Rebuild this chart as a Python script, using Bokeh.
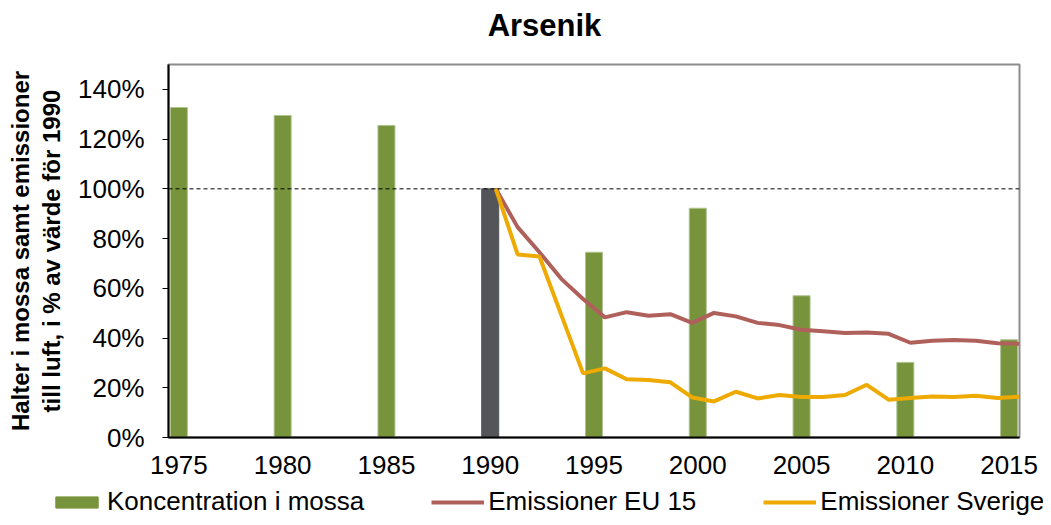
from bokeh.plotting import figure
from bokeh.layouts import column
from bokeh.models import (Range1d, FixedTicker, PrintfTickFormatter, Span, Title,
                          Legend, LegendItem, ColumnDataSource, Label)
from bokeh.embed import file_html
from bokeh.resources import INLINE

# ---- data ----
moss_years = [1975, 1980, 1985, 1990, 1995, 2000, 2005, 2010, 2015]
moss_values = [132.7, 129.5, 125.5, 100.0, 74.5, 92.2, 57.0, 30.2, 39.3]

emis_years = list(range(1990, 2015))
eu15_values = [100.0, 84.6, 74.5, 63.8, 55.7, 48.3, 50.4, 49.0, 49.6, 46.1,
               50.1, 48.7, 46.1, 45.2, 43.3, 42.7, 42.0, 42.2, 41.7, 38.1,
               38.9, 39.2, 38.9, 37.9, 37.7]
sverige_values = [100.0, 73.6, 72.8, 49.3, 25.8, 27.8, 23.4, 23.1, 22.2, 16.1,
                  14.5, 18.4, 15.7, 17.1, 16.3, 16.3, 17.1, 21.2, 15.2, 15.9,
                  16.5, 16.3, 16.8, 15.9, 16.4]

x_ticks = [1975, 1980, 1985, 1990, 1995, 2000, 2005, 2010, 2015]
y_ticks = [0, 20, 40, 60, 80, 100, 120, 140]

title_text = "Arsenik"
ylabel_1 = "Halter i mossa samt emissioner"
ylabel_2 = "till luft, i % av värde för 1990"
legend_labels = ["Koncentration i mossa", "Emissioner EU 15", "Emissioner Sverige"]

# ---- styles ----
GREEN = "#77933C"
GREEN_EDGE = "#AFC48F"
DARK = "#535559"
EU_COL = "#B0605A"
SE_COL = "#EEAA00"
FONT = "Liberation Sans"
W = 1043
TOP_H = 45
LEG_H = 31


def strip(height):
    f = figure(width=W, height=height, output_backend="svg", toolbar_location=None,
               x_range=Range1d(0, W), y_range=Range1d(0, height),
               x_axis_type=None, y_axis_type=None, min_border=0,
               frame_align=False)
    f.title = None
    f.xgrid.visible = False
    f.ygrid.visible = False
    f.outline_line_color = None
    f.background_fill_color = "white"
    f.border_fill_color = "white"
    return f


# ---- title strip ----
tp = strip(TOP_H)
tp.add_layout(Label(x=544, y=TOP_H - 24.5, text=title_text, text_font=FONT,
                    text_font_size="31px", text_font_style="bold",
                    text_align="center", text_baseline="alphabetic",
                    text_color="black"))

# ---- main chart ----
p = figure(width=W, height=517 - TOP_H - LEG_H, output_backend="svg",
           toolbar_location=None,
           x_range=Range1d(1974.5, 2015.5), y_range=Range1d(0, 150),
           min_border_left=168, min_border_right=24, min_border_top=64 - TOP_H,
           min_border_bottom=80 - LEG_H, frame_align=False)
p.extra_x_ranges = {"emis": Range1d(1975.0, 2014.0)}
p.title = None
p.xgrid.visible = False
p.ygrid.visible = False
p.outline_line_color = "#8C8C8C"
p.outline_line_width = 2
p.background_fill_color = "white"
p.border_fill_color = "white"

fills = [DARK if y == 1990 else GREEN for y in moss_years]
edges = [DARK if y == 1990 else GREEN_EDGE for y in moss_years]
src = ColumnDataSource(dict(x=moss_years, top=moss_values, fill=fills, edge=edges))
p.vbar(x="x", top="top", width=0.82, source=src, fill_color="fill",
       line_color="edge", line_width=1)

p.add_layout(Span(location=100, dimension="width", line_color="black",
                  line_width=1, line_dash="4 3"))

p.line(emis_years, eu15_values, x_range_name="emis", line_color=EU_COL,
       line_width=4)
p.line(emis_years, sverige_values, x_range_name="emis", line_color=SE_COL,
       line_width=4)

xa = p.xaxis[0]
xa.ticker = FixedTicker(ticks=x_ticks)
xa.axis_line_color = "black"
xa.axis_line_width = 2
xa.major_tick_out = 0
xa.major_tick_in = 0
xa.minor_tick_out = 0
xa.minor_tick_in = 0
xa.major_label_text_font = FONT
xa.major_label_text_font_size = "26px"
xa.major_label_text_color = "black"
xa.major_label_standoff = 18

ya = p.yaxis[0]
ya.ticker = FixedTicker(ticks=y_ticks)
ya.formatter = PrintfTickFormatter(format="%d%%")
ya.axis_line_color = "black"
ya.axis_line_width = 2
ya.major_tick_out = 6
ya.major_tick_in = 0
ya.minor_tick_out = 0
ya.minor_tick_in = 0
ya.major_tick_line_color = "black"
ya.major_label_text_font = FONT
ya.major_label_text_font_size = "26px"
ya.major_label_text_color = "black"
ya.major_label_standoff = 18

t2 = Title(text=ylabel_2, align="center", standoff=22, text_font=FONT,
           text_font_size="24px", text_font_style="bold", text_color="black")
p.add_layout(t2, "left")
t1 = Title(text=ylabel_1, align="center", standoff=-18, text_font=FONT,
           text_font_size="24px", text_font_style="bold", text_color="black")
p.add_layout(t1, "left")

# ---- legend strip ----
lp = strip(LEG_H)
# series drawn outside the strip's visible ranges, used only as legend swatches
lbars = lp.vbar(x=moss_years, top=moss_values, width=0.8, fill_color=GREEN,
                line_color=GREEN)
leu = lp.line(emis_years, eu15_values, line_color=EU_COL, line_width=4)
lse = lp.line(emis_years, sverige_values, line_color=SE_COL, line_width=4)

lg = Legend(items=[LegendItem(label=legend_labels[0], renderers=[lbars]),
                   LegendItem(label=legend_labels[1], renderers=[leu]),
                   LegendItem(label=legend_labels[2], renderers=[lse])],
            location=(50, 0), orientation="horizontal",
            glyph_width=53, glyph_height=14, label_standoff=4, spacing=67,
            label_text_font=FONT, label_text_font_size="26px",
            label_text_color="black", padding=0, margin=0,
            border_line_alpha=0, background_fill_alpha=0, label_height=20)
lp.add_layout(lg, "center")

layout = column(tp, p, lp, spacing=0)
open("out.html", "w").write(file_html(layout, INLINE))
